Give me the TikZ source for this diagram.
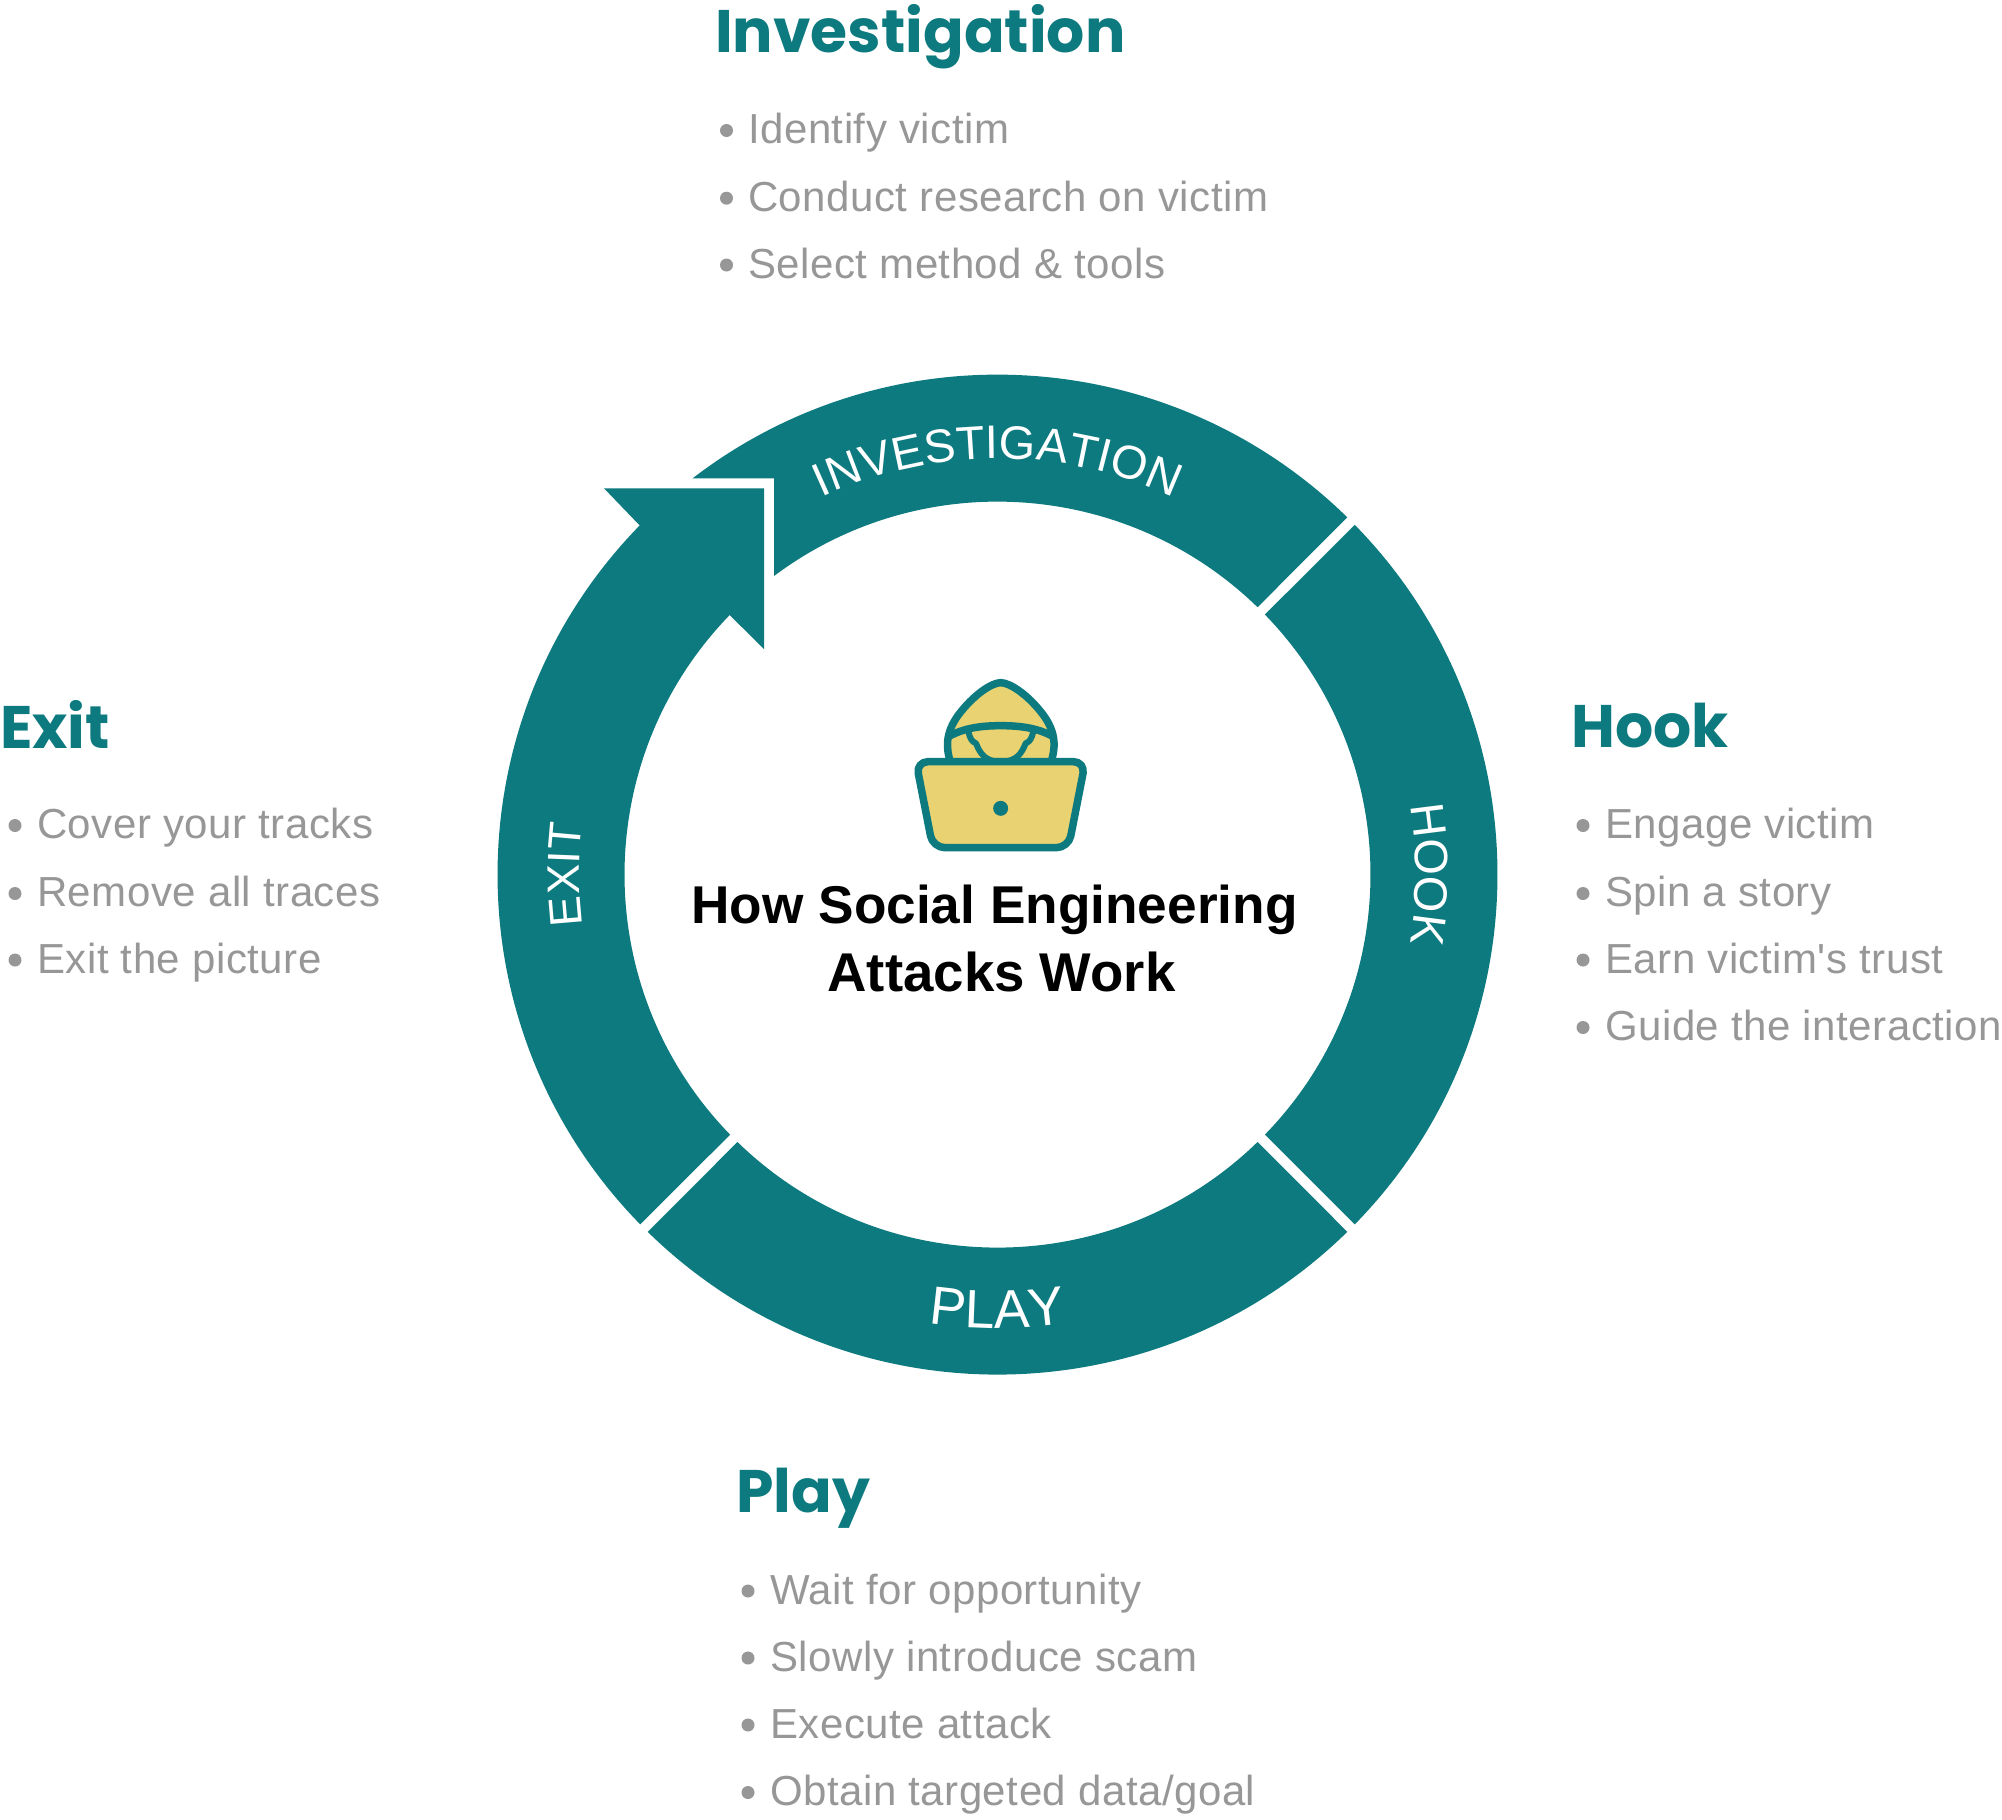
\documentclass[tikz,border=0pt]{standalone}
\usepackage{fontspec}
\usetikzlibrary{decorations.text}
\setmainfont{Liberation Sans}
\newfontfamily\headfont{Poppins}[BoldFont={Poppins Bold}]
\newfontfamily\bodyfont{Liberation Sans}[LetterSpace=1.2]
\newfontfamily\ringfont{Liberation Sans}
\newcommand{\ringtext}{\ringfont\fontsize{47}{47}\selectfont}
\newcommand{\ringtextplay}{\ringfont\fontsize{54}{54}\selectfont}
\newcommand{\ringtextexit}{\ringfont\fontsize{45.5}{45.5}\selectfont}
\definecolor{teal1}{HTML}{0C7A7E}
\definecolor{gold1}{HTML}{E8D272}
\definecolor{gray1}{HTML}{979797}
\tikzset{
  ringseg/.style={fill=teal1,draw=none},
  headtxt/.style={anchor=base west,inner sep=0pt,text=teal1,font=\headfont\bfseries\fontsize{60}{60}\selectfont},
  bodytxt/.style={anchor=base west,inner sep=0pt,text=gray1,font=\bodyfont\fontsize{42}{42}\selectfont},
  dotmark/.style={circle,fill=gray1,draw=none,inner sep=0pt,minimum size=13pt},
  titletxt/.style={inner sep=0pt,text=black,font=\bfseries\fontsize{53.2}{53.2}\selectfont},
  iconline/.style={draw=teal1,line width=7.5pt,line join=round},
}
% \itemrow{name}{dot x}{text x}{baseline y}{text}
\newcommand{\itemrow}[5]{%
  \node[dotmark] (#1d) at (#2,-#4+13) {};
  \node[bodytxt] (#1) at (#3,-#4) {#5};
}
\begin{document}
\begin{tikzpicture}[x=1pt,y=1pt]
\useasboundingbox (0,-1820) rectangle (2002,0);
\begin{scope}[shift={(997.5,-874.6)}]
  % Investigation
  \fill[ringseg] (127.6:500) arc[start angle=127.6,end angle=45.6,radius=500pt]
     -- (45.8:373) arc[start angle=45.8,end angle=126.8,radius=373pt]
     -- (-223.5,396.3) -- cycle;
  % Hook
  \fill[ringseg] (44.4:500) arc[start angle=44.4,end angle=-44.4,radius=500pt]
     -- (-44.2:373) arc[start angle=-44.2,end angle=44.2,radius=373pt] -- cycle;
  % Play
  \fill[ringseg] (-45.6:500) arc[start angle=-45.6,end angle=-134.4,radius=500pt]
     -- (-134.2:373) arc[start angle=-134.2,end angle=-45.8,radius=373pt] -- cycle;
  % Exit with arrowhead
  \fill[ringseg] (224.4:500) arc[start angle=224.4,end angle=135.7,radius=500pt]
     -- (-393.5,386.3) -- (-233.5,386.3) -- (-233.5,225.6)
     -- (135.9:373) arc[start angle=135.9,end angle=224.2,radius=373pt] -- cycle;
  % ring labels
  \path[decorate,decoration={text along path,text color=white,text align=center,
     text={|\ringtext|INVESTIGATION}}]
     (150:416) arc[start angle=150,end angle=30,radius=416pt];
  \path[decorate,decoration={text along path,text color=white,text align=center,
     text={|\ringtext|HOOK}}]
     (30:418) arc[start angle=30,end angle=-30,radius=418pt];
  \path[decorate,decoration={text along path,text color=white,text align=center,
     text={|\ringtextplay|PLAY}}]
     (230:453.5) arc[start angle=230,end angle=310,radius=453.5pt];
  \path[decorate,decoration={text along path,text color=white,text align=center,
     text={|\ringtextexit|EXIT}}]
     (210:418) arc[start angle=210,end angle=150,radius=418pt];
\end{scope}

% Icon
\begin{scope}[shift={(880,-660)},x=0.3333pt,y=-0.3333pt]
  \filldraw[iconline,fill=gold1] (212,310) .. controls (198,265) and (195,220) .. (235,165)
     .. controls (280,105) and (335,68) .. (362,68)
     .. controls (390,68) and (445,105) .. (490,165)
     .. controls (530,220) and (527,265) .. (512,310) -- cycle;
  \draw[iconline] (205,230) .. controls (250,205) and (300,197) .. (362,197)
     .. controls (425,197) and (475,205) .. (520,230);
  \draw[iconline,line width=6pt] (265,215) .. controls (270,235) and (275,245) .. (288,250)
     .. controls (300,280) and (315,305) .. (362,305)
     .. controls (410,305) and (425,280) .. (437,250)
     .. controls (450,245) and (455,235) .. (460,215);
  \filldraw[iconline,fill=gold1,rounded corners=12pt] (108,305) -- (616,305) -- (565.5,563) -- (158.5,563) -- cycle;
  \fill[teal1] (362,445) circle (22.5);
\end{scope}

\node[titletxt,anchor=base] (title1) at (994.5,-923) {How Social Engineering};
\node[titletxt,anchor=base,font=\bfseries\fontsize{54.6}{54.6}\selectfont] (title2) at (1001.5,-991.5) {Attacks Work};

\node[headtxt] (hinv) at (715,-52.5) {Investigation};
\itemrow{i1}{726.5}{748}{143.5}{Identify victim}
\itemrow{i2}{726.5}{748}{211.2}{Conduct research on victim}
\itemrow{i3}{726.5}{748}{278}{Select method \& tools}

\node[headtxt] (hexit) at (0,-748) {Exit};
\itemrow{e1}{15}{37}{838.5}{Cover your tracks}
\itemrow{e2}{15}{37}{906.5}{Remove all traces}
\itemrow{e3}{15}{37}{973}{Exit the picture}

\node[headtxt] (hhook) at (1571,-747.5) {Hook};
\itemrow{h1}{1583}{1605}{838.5}{Engage victim}
\itemrow{h2}{1583}{1605}{906.5}{Spin a story}
\itemrow{h3}{1583}{1605}{973}{Earn victim's trust}
\itemrow{h4}{1583}{1605}{1040.5}{Guide the interaction}

\node[headtxt] (hplay) at (736,-1512.5) {Play};
\itemrow{p1}{748}{770}{1604}{Wait for opportunity}
\itemrow{p2}{748}{770}{1671}{Slowly introduce scam}
\itemrow{p3}{748}{770}{1738}{Execute attack}
\itemrow{p4}{748}{770}{1805.5}{Obtain targeted data/goal}
\end{tikzpicture}
\end{document}
